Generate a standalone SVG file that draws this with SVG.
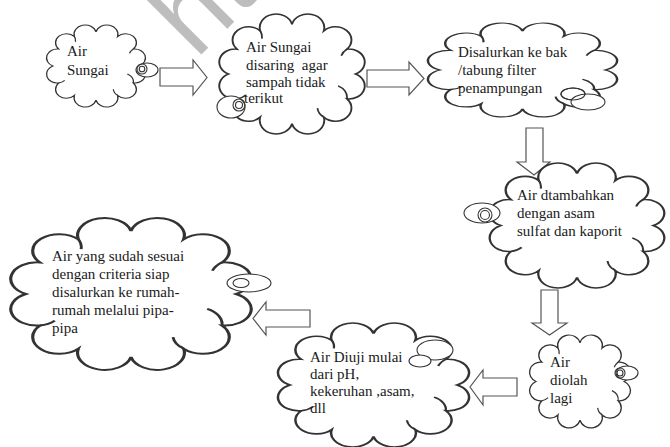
<svg xmlns="http://www.w3.org/2000/svg" xmlns:xlink="http://www.w3.org/1999/xlink" width="670" height="447" viewBox="0 0 670 447">
<style>
.cloud{fill:#fff;stroke:#333;stroke-width:1.2;vector-effect:non-scaling-stroke}
.hook{fill:none;stroke:#333;stroke-width:1.1;vector-effect:non-scaling-stroke}
.bub{fill:#fff;stroke:#333;stroke-width:1.1}
.bubn{fill:none;stroke:#333;stroke-width:1.1}
.arr{fill:#fff;stroke:#555;stroke-width:1.2;stroke-linejoin:miter}
.t{font-family:"Liberation Serif","Times New Roman",serif;font-size:15px;fill:#1a1a1a;white-space:pre}
.wm{font-family:"Liberation Sans",Arial,sans-serif;font-size:110px;fill:#bdbdbd}
</style>
<defs>
<path id="cloud" d="M10,50 A10,10 0 0 1 15.36,31 A10,10 0 0 1 30,17.09 A10,10 0 0 1 50,12 A10,10 0 0 1 70,17.09 A10,10 0 0 1 84.64,31 A10,10 0 0 1 90,50 A10,10 0 0 1 84.64,69 A10,10 0 0 1 70,82.91 A10,10 0 0 1 50,88 A10,10 0 0 1 30,82.91 A10,10 0 0 1 15.36,69 A10,10 0 0 1 10,50 Z"/>
<path id="hooks" d="M84.64,69 A10,10 0 0 0 79,59 M70,82.91 A10,10 0 0 1 66,76 M15.36,69 A10,10 0 0 0 21,66 M30,17.09 A10,10 0 0 1 31,23 M84.64,31 A10,10 0 0 0 81,36"/>
</defs>
<rect width="670" height="447" fill="#fff"/>

<g id="connectors">
<polygon class="arr" points="160,68 193,68 193,60 207,77.5 193,95 193,86 160,86"/>
<polygon class="arr" points="367,70 409,70 409,62 424,78.5 409,95 409,87 367,87"/>
<polygon class="arr" points="526,128 543,128 543,162 550,162 534,175 517,162 526,162"/>
<polygon class="arr" points="541,290 558,290 558,323 567,323 549.5,335 532,323 541,323"/>
<polygon class="arr" points="517,378 483,378 483,370 470,387 483,405 483,396 517,396"/>
<polygon class="arr" points="310,310 266,310 266,302 253,318.5 266,335 266,327 310,327"/>
</g>

<g id="node1">
<g transform="translate(41.97,21.24) scale(1.0805,0.8952)"><use xlink:href="#cloud" class="cloud"/><use xlink:href="#hooks" class="hook"/></g>
<ellipse class="bub" cx="147" cy="70" rx="11" ry="7"/>
<circle class="bubn" cx="142" cy="69" r="5"/>
<circle class="bubn" cx="142" cy="69" r="2.8"/>
<text class="t" x="67" y="56">Air</text>
<text class="t" x="67" y="75">Sungai</text>
</g>

<g id="node2">
<g transform="translate(212.55,8.5) scale(1.589,1.31)"><use xlink:href="#cloud" class="cloud"/><use xlink:href="#hooks" class="hook"/></g>
<ellipse class="bub" cx="231" cy="107" rx="14" ry="11"/>
<circle class="bubn" cx="239" cy="105" r="6"/>
<circle class="bubn" cx="239" cy="105" r="3.5"/>
<text class="t" x="246" y="52">Air Sungai</text>
<text class="t" x="246" y="70">disaring  agar</text>
<text class="t" x="246" y="87">sampah tidak</text>
<text class="t" x="244" y="103">terikut</text>
</g>

<g id="node3">
<g transform="translate(419.22,18.69) scale(2.066,1.026)"><use xlink:href="#cloud" class="cloud"/><use xlink:href="#hooks" class="hook"/></g>
<ellipse class="bub" cx="573" cy="94" rx="12" ry="6"/>
<ellipse class="bub" cx="588" cy="102" rx="17" ry="8"/>
<ellipse class="bubn" cx="573" cy="94" rx="12" ry="6"/>
<text class="t" x="458" y="57">Disalurkan ke bak</text>
<text class="t" x="458" y="75">/tabung filter</text>
<text class="t" x="458" y="93">penampungan</text>
</g>

<g id="node4">
<g transform="translate(481.66,157.27) scale(1.907,1.365)"><use xlink:href="#cloud" class="cloud"/><use xlink:href="#hooks" class="hook"/></g>
<ellipse class="bub" cx="482" cy="213" rx="18" ry="10"/>
<circle class="bubn" cx="485" cy="215" r="7"/>
<circle class="bubn" cx="485" cy="215" r="4.5"/>
<text class="t" x="517" y="200">Air dtambahkan</text>
<text class="t" x="517" y="218">dengan asam</text>
<text class="t" x="517" y="236">sulfat dan kaporit</text>
</g>

<g id="node5">
<g transform="translate(-0.36,211.03) scale(2.627,1.659)"><use xlink:href="#cloud" class="cloud"/><use xlink:href="#hooks" class="hook"/></g>
<ellipse class="bub" cx="249" cy="283" rx="22" ry="9"/>
<ellipse class="bubn" cx="241" cy="283" rx="8" ry="4.5"/>
<text class="t" x="52" y="261">Air yang sudah sesuai</text>
<text class="t" x="52" y="279">dengan criteria siap</text>
<text class="t" x="52" y="297">disalurkan ke rumah-</text>
<text class="t" x="52" y="315">rumah melalui pipa-</text>
<text class="t" x="52" y="333">pipa</text>
</g>

<g id="node6">
<g transform="translate(269.16,317.31) scale(2.087,1.354)"><use xlink:href="#cloud" class="cloud"/><use xlink:href="#hooks" class="hook"/></g>
<ellipse class="bub" cx="435" cy="350" rx="18" ry="10"/>
<ellipse class="bub" cx="420" cy="361" rx="11" ry="6"/>
<text class="t" x="310" y="362">Air Diuji mulai</text>
<text class="t" x="310" y="379">dari pH,</text>
<text class="t" x="310" y="396">kekeruhan ,asam,</text>
<text class="t" x="310" y="413">dll</text>
</g>

<g id="node7">
<g transform="translate(524.92,330.74) scale(1.102,1.015)"><use xlink:href="#cloud" class="cloud"/><use xlink:href="#hooks" class="hook"/></g>
<ellipse class="bub" cx="627" cy="373" rx="11" ry="7"/>
<circle class="bubn" cx="620" cy="373" r="5"/>
<circle class="bubn" cx="620" cy="373" r="3"/>
<text class="t" x="550" y="367">Air</text>
<text class="t" x="550" y="385">diolah</text>
<text class="t" x="550" y="403">lagi</text>
</g>

<text class="wm" transform="translate(196,60) rotate(-45)">ht</text>
</svg>
